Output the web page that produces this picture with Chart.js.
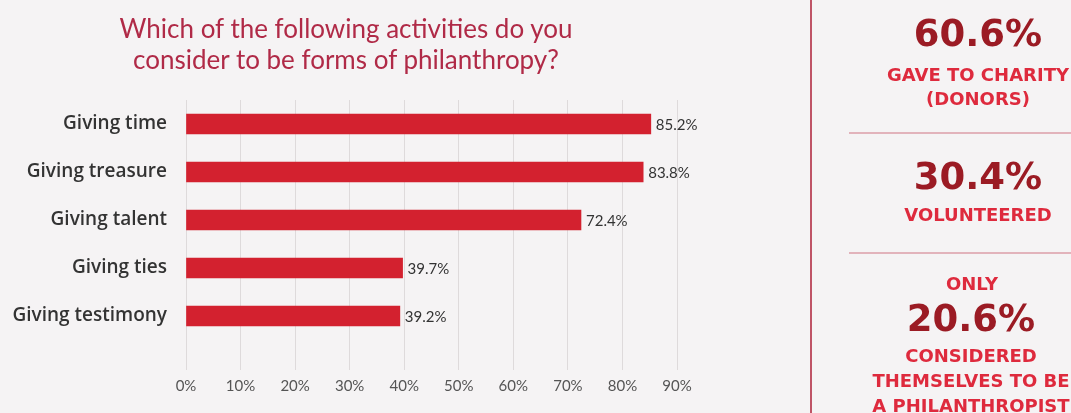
<!DOCTYPE html>
<html>
<head>
<meta charset="utf-8">
<script src="https://cdn.jsdelivr.net/npm/chart.js@4.4.1/dist/chart.umd.min.js"></script>
<style>
  html, body { margin: 0; padding: 0; background: #f5f3f4; }
  #wrap { position: relative; width: 1071px; height: 413px; overflow: hidden; background: #f5f3f4; }
  #chart { position: absolute; left: 0; top: 0; }
  .title { position: absolute; left: 0; width: 692px; text-align: center; color: #b02a47;
           font-family: Lato, "Open Sans", sans-serif; font-size: 26px; line-height: 30px; }
  .vrule { position: absolute; left: 810px; top: 0; width: 2px; height: 413px; background: #bf5466; }
  .hrule { position: absolute; left: 849px; width: 222px; height: 2px; background: #e2b3bb; }
  .big { position: absolute; width: 240px; text-align: center; color: #9b1b24;
         font-family: "DejaVu Sans", sans-serif; font-weight: bold; font-size: 37px;
         height: 40px; line-height: 40px; white-space: nowrap; }
  .cap { position: absolute; width: 260px; text-align: center; color: #de2a3d;
         font-family: "DejaVu Sans", sans-serif; font-weight: bold; font-size: 18px;
         height: 24px; line-height: 24px; white-space: nowrap; }
</style>
</head>
<body>
<div id="wrap">
  <canvas id="chart" width="1071" height="413"></canvas>
  <div class="title" style="top:13px">Which of the following activities do you</div>
  <div class="title" style="top:44px">consider to be forms of philanthropy?</div>

  <div class="vrule"></div>
  <div class="big" style="left:858px; top:14px">60.6%</div>
  <div class="cap" style="left:848px; top:63px">GAVE TO CHARITY</div>
  <div class="cap" style="left:848px; top:87px">(DONORS)</div>
  <div class="hrule" style="top:132px"></div>
  <div class="big" style="left:858px; top:157px">30.4%</div>
  <div class="cap" style="left:848px; top:203px">VOLUNTEERED</div>
  <div class="hrule" style="top:252px"></div>
  <div class="cap" style="left:842px; top:272px">ONLY</div>
  <div class="big" style="left:851px; top:299px">20.6%</div>
  <div class="cap" style="left:841px; top:344px">CONSIDERED</div>
  <div class="cap" style="left:841px; top:369px">THEMSELVES TO BE</div>
  <div class="cap" style="left:841px; top:394px">A PHILANTHROPIST</div>
</div>
<script>
// Survey answers: share of respondents who count each activity as philanthropy
const categories = ["Giving time", "Giving treasure", "Giving talent", "Giving ties", "Giving testimony"];
const shares = [85.2, 83.8, 72.4, 39.7, 39.2];
const tickValues = [0, 10, 20, 30, 40, 50, 60, 70, 80, 90];

const BAR_RED = "#d3212f";
const TEXT_DARK = "#333333";

// Percentage printed just past the end of each bar
const valueLabels = {
  id: "valueLabels",
  afterDatasetsDraw(chart) {
    const ctx = chart.ctx;
    const meta = chart.getDatasetMeta(0);
    ctx.save();
    ctx.font = "15px Lato, 'Open Sans', sans-serif";
    ctx.fillStyle = TEXT_DARK;
    ctx.textAlign = "left";
    ctx.textBaseline = "middle";
    meta.data.forEach((bar, i) => {
      ctx.fillText(shares[i].toFixed(1) + "%", bar.x + 5, bar.y + 1);
    });
    ctx.restore();
  }
};

new Chart(document.getElementById("chart"), {
  type: "bar",
  data: {
    labels: categories,
    datasets: [{
      data: shares,
      backgroundColor: BAR_RED,
      borderWidth: 0,
      barThickness: 20
    }]
  },
  options: {
    indexAxis: "y",
    responsive: false,
    animation: false,
    devicePixelRatio: 1,
    layout: { padding: { top: 100, bottom: 11, left: 0, right: 394 } },
    plugins: { legend: { display: false }, tooltip: { enabled: false }, title: { display: false } },
    scales: {
      x: {
        min: 0,
        max: 90,
        afterBuildTicks(scale) { scale.ticks = tickValues.map(v => ({ value: v })); },
        grid: { color: "#dedadb", lineWidth: 1, drawTicks: true, tickLength: 30, tickColor: "#dedadb" },
        border: { display: false },
        ticks: {
          padding: 7,
          color: "#555555",
          font: { family: "Lato, 'Open Sans', sans-serif", size: 15 },
          callback: v => v + "%"
        }
      },
      y: {
        afterFit(scale) { scale.width = 186; },
        grid: { display: false, drawTicks: false },
        border: { display: false },
        ticks: {
          padding: 19,
          color: TEXT_DARK,
          font: { family: "'Open Sans', sans-serif", size: 19, weight: "600" }
        }
      }
    }
  },
  plugins: [valueLabels]
});
</script>
</body>
</html>
